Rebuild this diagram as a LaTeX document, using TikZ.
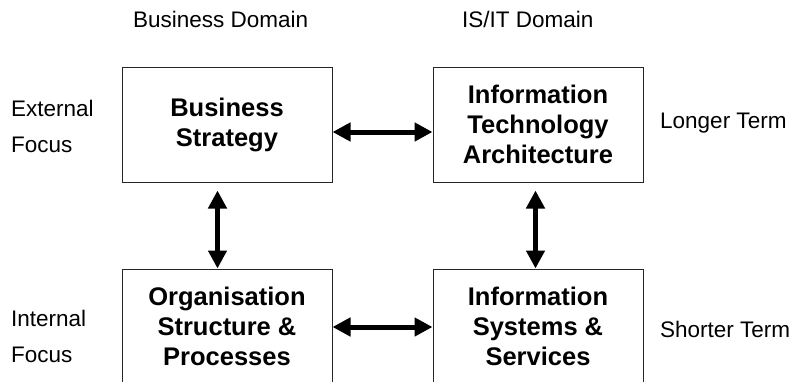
\documentclass[tikz,border=0pt]{standalone}
\usepackage{fontspec}
\setmainfont{Liberation Sans}
\usetikzlibrary{arrows.meta}

\begin{document}
\begin{tikzpicture}[x=1pt,y=-1pt,
    box/.style={draw=black!85, line width=1pt, minimum width=210pt, minimum height=115pt,
        align=center, inner sep=0pt, font=\bfseries\fontsize{25.5}{30}\selectfont},
    lbl/.style={inner sep=0pt, align=left, font=\fontsize{22.5}{36}\selectfont},
    dbl/.style={{Triangle[length=18pt,width=18pt]}-{Triangle[length=18pt,width=18pt]}, line width=5pt}]
                \useasboundingbox (0,0) rectangle (793,381);
                \clip (0,0) rectangle (793,381);

                % Column headings
                \node[lbl, anchor=base west] (bdom) at (133,27) {Business Domain};
                \node[lbl, anchor=base west] (itdom) at (462,27) {IS/IT Domain};

                % Row labels on the left
                \node[lbl, anchor=west] (ext) at (11,126.4) {External\\Focus};
                \node[lbl, anchor=west] (int) at (11,336) {Internal\\Focus};

                % Row labels on the right
                \node[lbl, anchor=base west] (longer) at (660,128) {Longer Term};
                \node[lbl, anchor=base west] (shorter) at (660,337) {Shorter Term};

                % The four boxes
                \node[box] (bs) at (227,124.5) {Business\\Strategy};
                \node[box] (ita) at (538,124.5) {Information\\Technology\\Architecture};
                \node[box] (osp) at (227,326.5) {Organisation\\Structure \&\\Processes};
                \node[box] (iss) at (538,326.5) {Information\\Systems \&\\Services};

                % Links across
                \draw[dbl] ([yshift=-7.5pt]bs.east) -- ([yshift=-7.5pt]ita.west);
                \draw[dbl] ([yshift=-0.5pt]osp.east) -- ([yshift=-0.5pt]iss.west);

                % Links down
                \draw[dbl, shorten <=8pt] ([xshift=-9.5pt]bs.south) -- ([xshift=-9.5pt]osp.north);
                \draw[dbl, shorten <=8pt] ([xshift=-2.5pt]ita.south) -- ([xshift=-2.5pt]iss.north);
            \end{tikzpicture}
\end{document}
